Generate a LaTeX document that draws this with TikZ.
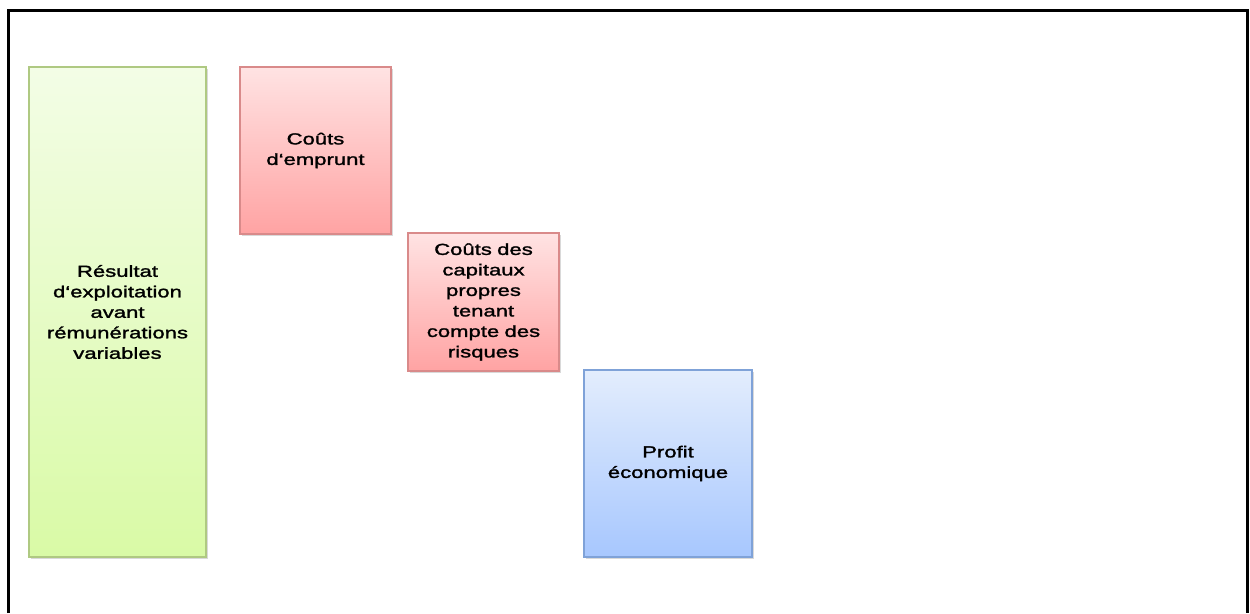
\documentclass[tikz,border=0pt]{standalone}
\usepackage{fontspec}
\setmainfont{Liberation Sans}
\newfontfamily\barfont[FakeStretch=1.38,FakeBold=1.6]{Liberation Sans}
\usetikzlibrary{shadows}
\definecolor{greentop}{HTML}{F3FDE6}
\definecolor{greenbot}{HTML}{D9FAA6}
\definecolor{greenline}{HTML}{AFC982}
\definecolor{redtop}{HTML}{FFE3E3}
\definecolor{redbot}{HTML}{FFA3A3}
\definecolor{redline}{HTML}{D98A8A}
\definecolor{bluetop}{HTML}{E3EDFD}
\definecolor{bluebot}{HTML}{A7C7FE}
\definecolor{blueline}{HTML}{7FA2D8}
\begin{document}
\begin{tikzpicture}[x=1pt,y=-1pt,
    bar/.style={draw, line width=1.2pt, inner sep=0pt, align=center,
      font=\barfont\fontsize{16}{20.5}\selectfont,
      drop shadow={shadow xshift=1.5pt, shadow yshift=-2pt, opacity=0.3}},
    greenbar/.style={bar, draw=greenline, top color=greentop, bottom color=greenbot},
    redbar/.style={bar, draw=redline, top color=redtop, bottom color=redbot},
    bluebar/.style={bar, draw=blueline, top color=bluetop, bottom color=bluebot}]
  \useasboundingbox (0,0) rectangle (1250,613);
  \draw[line width=3pt] (8.5,613) -- (8.5,10.5) -- (1247.5,10.5) -- (1247.5,613);
  \node[greenbar, minimum width=177pt, minimum height=490pt, text width=174pt] (res) at (117.5,312)
    {Résultat\\d‘exploitation\\avant\\rémunérations\\variables};
  \node[redbar, minimum width=151pt, minimum height=167pt, text width=148pt] (emprunt) at (315.5,150.5)
    {Coûts\\d‘emprunt};
  \node[redbar, minimum width=151pt, minimum height=138pt, text width=148pt] (capitaux) at (483.5,302)
    {Coûts des\\capitaux\\propres\\tenant\\compte des\\risques};
  \node[bluebar, minimum width=168pt, minimum height=187pt, text width=165pt] (profit) at (668,463.5)
    {Profit\\économique};
\end{tikzpicture}
\end{document}
